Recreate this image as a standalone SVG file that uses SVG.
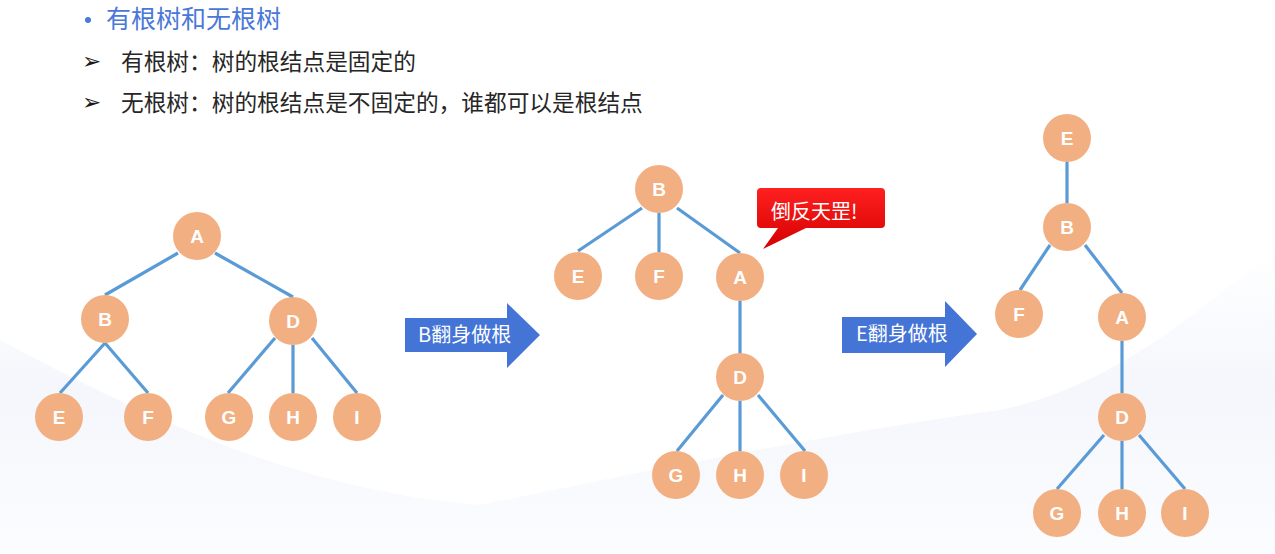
<svg xmlns="http://www.w3.org/2000/svg" width="1275" height="554" viewBox="0 0 1275 554">
  <defs>
    <linearGradient id="bgwave" x1="0" y1="0" x2="0" y2="1">
      <stop offset="0" stop-color="#f1f4fb" stop-opacity="0"/>
      <stop offset="0.45" stop-color="#f0f3fb"/>
      <stop offset="1" stop-color="#fafbfe"/>
    </linearGradient>
    <linearGradient id="red" x1="0" y1="0" x2="0" y2="1">
      <stop offset="0" stop-color="#ff2020"/>
      <stop offset="1" stop-color="#d40000"/>
    </linearGradient>
  </defs>
  <style>
    .node circle { fill: #F2AF81; }
    .node text { fill: #ffffff; font-family: "Liberation Sans", Arial, sans-serif; font-weight: bold; font-size: 19px; text-anchor: middle; }
    .edges line { stroke: #5B9BD5; stroke-width: 3.2; }
    .cjk { font-family: "Noto Sans CJK SC", "Microsoft YaHei", sans-serif; }
    .arrow path { fill: #4474D6; }
    .arrow text { fill: #ffffff; font-size: 20px; }
    .bul { font-family: "DejaVu Sans", sans-serif; font-size: 23px; fill: #1a1a1a; }
  </style>

  <rect width="1275" height="554" fill="#ffffff"/>
  <!-- faint background waves -->
  <path d="M0 340 C 150 420, 300 490, 480 505 C 650 470, 850 430, 1000 410 C 1120 385, 1210 300, 1275 250 L 1275 554 L 0 554 Z" fill="url(#bgwave)" opacity="0.7"/>

  <!-- header -->
  <g id="header">
    <circle cx="88" cy="20" r="3" fill="#4A78D8"/>
    <text x="106" y="28" class="cjk" font-size="25" fill="#4A78D8">有根树和无根树</text>
    <text x="82" y="69" class="bul">➢</text>
    <text x="121" y="70" class="cjk" font-size="22.7" fill="#262626">有根树：树的根结点是固定的</text>
    <text x="82" y="110" class="bul">➢</text>
    <text x="121" y="111" class="cjk" font-size="22.7" fill="#262626">无根树：树的根结点是不固定的，谁都可以是根结点</text>
  </g>

  <!-- connectors -->
  <g id="connectors" class="edges">
    <!-- left tree -->
    <line x1="178" y1="253" x2="105" y2="295"/>
    <line x1="215" y1="253" x2="293" y2="297"/>
    <line x1="105" y1="343" x2="60" y2="393"/>
    <line x1="105" y1="343" x2="148" y2="393"/>
    <line x1="275" y1="338" x2="228" y2="393"/>
    <line x1="293" y1="345" x2="293" y2="393"/>
    <line x1="312" y1="338" x2="357" y2="393"/>
    <!-- middle tree -->
    <line x1="642" y1="208" x2="578" y2="251"/>
    <line x1="659" y1="213" x2="659" y2="252"/>
    <line x1="677" y1="208" x2="740" y2="253"/>
    <line x1="740" y1="301" x2="740" y2="354"/>
    <line x1="723" y1="395" x2="677" y2="451"/>
    <line x1="740" y1="401" x2="740" y2="451"/>
    <line x1="758" y1="395" x2="805" y2="451"/>
    <!-- right tree -->
    <line x1="1067" y1="162" x2="1067" y2="203"/>
    <line x1="1050" y1="245" x2="1020" y2="290"/>
    <line x1="1085" y1="245" x2="1122" y2="293"/>
    <line x1="1122" y1="341" x2="1122" y2="393"/>
    <line x1="1104" y1="435" x2="1057" y2="489"/>
    <line x1="1122" y1="441" x2="1122" y2="489"/>
    <line x1="1139" y1="435" x2="1185" y2="489"/>
  </g>

  <!-- left tree nodes -->
  <g id="L-A" class="node"><circle cx="197" cy="236" r="24"/><text x="197" y="243">A</text></g>
  <g id="L-B" class="node"><circle cx="105" cy="319" r="24"/><text x="105" y="326">B</text></g>
  <g id="L-D" class="node"><circle cx="293" cy="321" r="24"/><text x="293" y="328">D</text></g>
  <g id="L-E" class="node"><circle cx="59" cy="417" r="24"/><text x="59" y="424">E</text></g>
  <g id="L-F" class="node"><circle cx="148" cy="417" r="24"/><text x="148" y="424">F</text></g>
  <g id="L-G" class="node"><circle cx="229" cy="417" r="24"/><text x="229" y="424">G</text></g>
  <g id="L-H" class="node"><circle cx="293" cy="417" r="24"/><text x="293" y="424">H</text></g>
  <g id="L-I" class="node"><circle cx="357" cy="417" r="24"/><text x="357" y="424">I</text></g>

  <!-- arrow 1 -->
  <g id="arrow-B" class="arrow">
    <path d="M405 318 H507 V303 L540 335 L507 368 V352 H405 Z"/>
    <text x="418" y="342" class="cjk">B翻身做根</text>
  </g>

  <!-- middle tree nodes -->
  <g id="M-B" class="node"><circle cx="659" cy="189" r="24"/><text x="659" y="196">B</text></g>
  <g id="M-E" class="node"><circle cx="578" cy="276" r="24"/><text x="578" y="283">E</text></g>
  <g id="M-F" class="node"><circle cx="659" cy="276" r="24"/><text x="659" y="283">F</text></g>
  <g id="M-A" class="node"><circle cx="740" cy="277" r="24"/><text x="740" y="284">A</text></g>
  <g id="M-D" class="node"><circle cx="740" cy="377" r="24"/><text x="740" y="384">D</text></g>
  <g id="M-G" class="node"><circle cx="676" cy="475" r="24"/><text x="676" y="482">G</text></g>
  <g id="M-H" class="node"><circle cx="740" cy="475" r="24"/><text x="740" y="482">H</text></g>
  <g id="M-I" class="node"><circle cx="804" cy="475" r="24"/><text x="804" y="482">I</text></g>

  <!-- callout -->
  <g id="callout">
    <path d="M761 188 H881 Q885 188 885 192 V224 Q885 228 881 228 H806 L763 249 L778 228 H761 Q757 228 757 224 V192 Q757 188 761 188 Z" fill="url(#red)"/>
    <text x="771" y="219" class="cjk" font-size="20" fill="#ffffff">倒反天罡!</text>
  </g>

  <!-- arrow 2 -->
  <g id="arrow-E" class="arrow">
    <path d="M842 317 H945 V301 L977 334 L945 367 V353 H842 Z"/>
    <text x="856" y="341" class="cjk">E翻身做根</text>
  </g>

  <!-- right tree nodes -->
  <g id="R-E" class="node"><circle cx="1067" cy="138" r="24"/><text x="1067" y="145">E</text></g>
  <g id="R-B" class="node"><circle cx="1067" cy="227" r="24"/><text x="1067" y="234">B</text></g>
  <g id="R-F" class="node"><circle cx="1019" cy="314" r="24"/><text x="1019" y="321">F</text></g>
  <g id="R-A" class="node"><circle cx="1122" cy="317" r="24"/><text x="1122" y="324">A</text></g>
  <g id="R-D" class="node"><circle cx="1122" cy="417" r="24"/><text x="1122" y="424">D</text></g>
  <g id="R-G" class="node"><circle cx="1057" cy="513" r="24"/><text x="1057" y="520">G</text></g>
  <g id="R-H" class="node"><circle cx="1122" cy="513" r="24"/><text x="1122" y="520">H</text></g>
  <g id="R-I" class="node"><circle cx="1185" cy="513" r="24"/><text x="1185" y="520">I</text></g>
</svg>
